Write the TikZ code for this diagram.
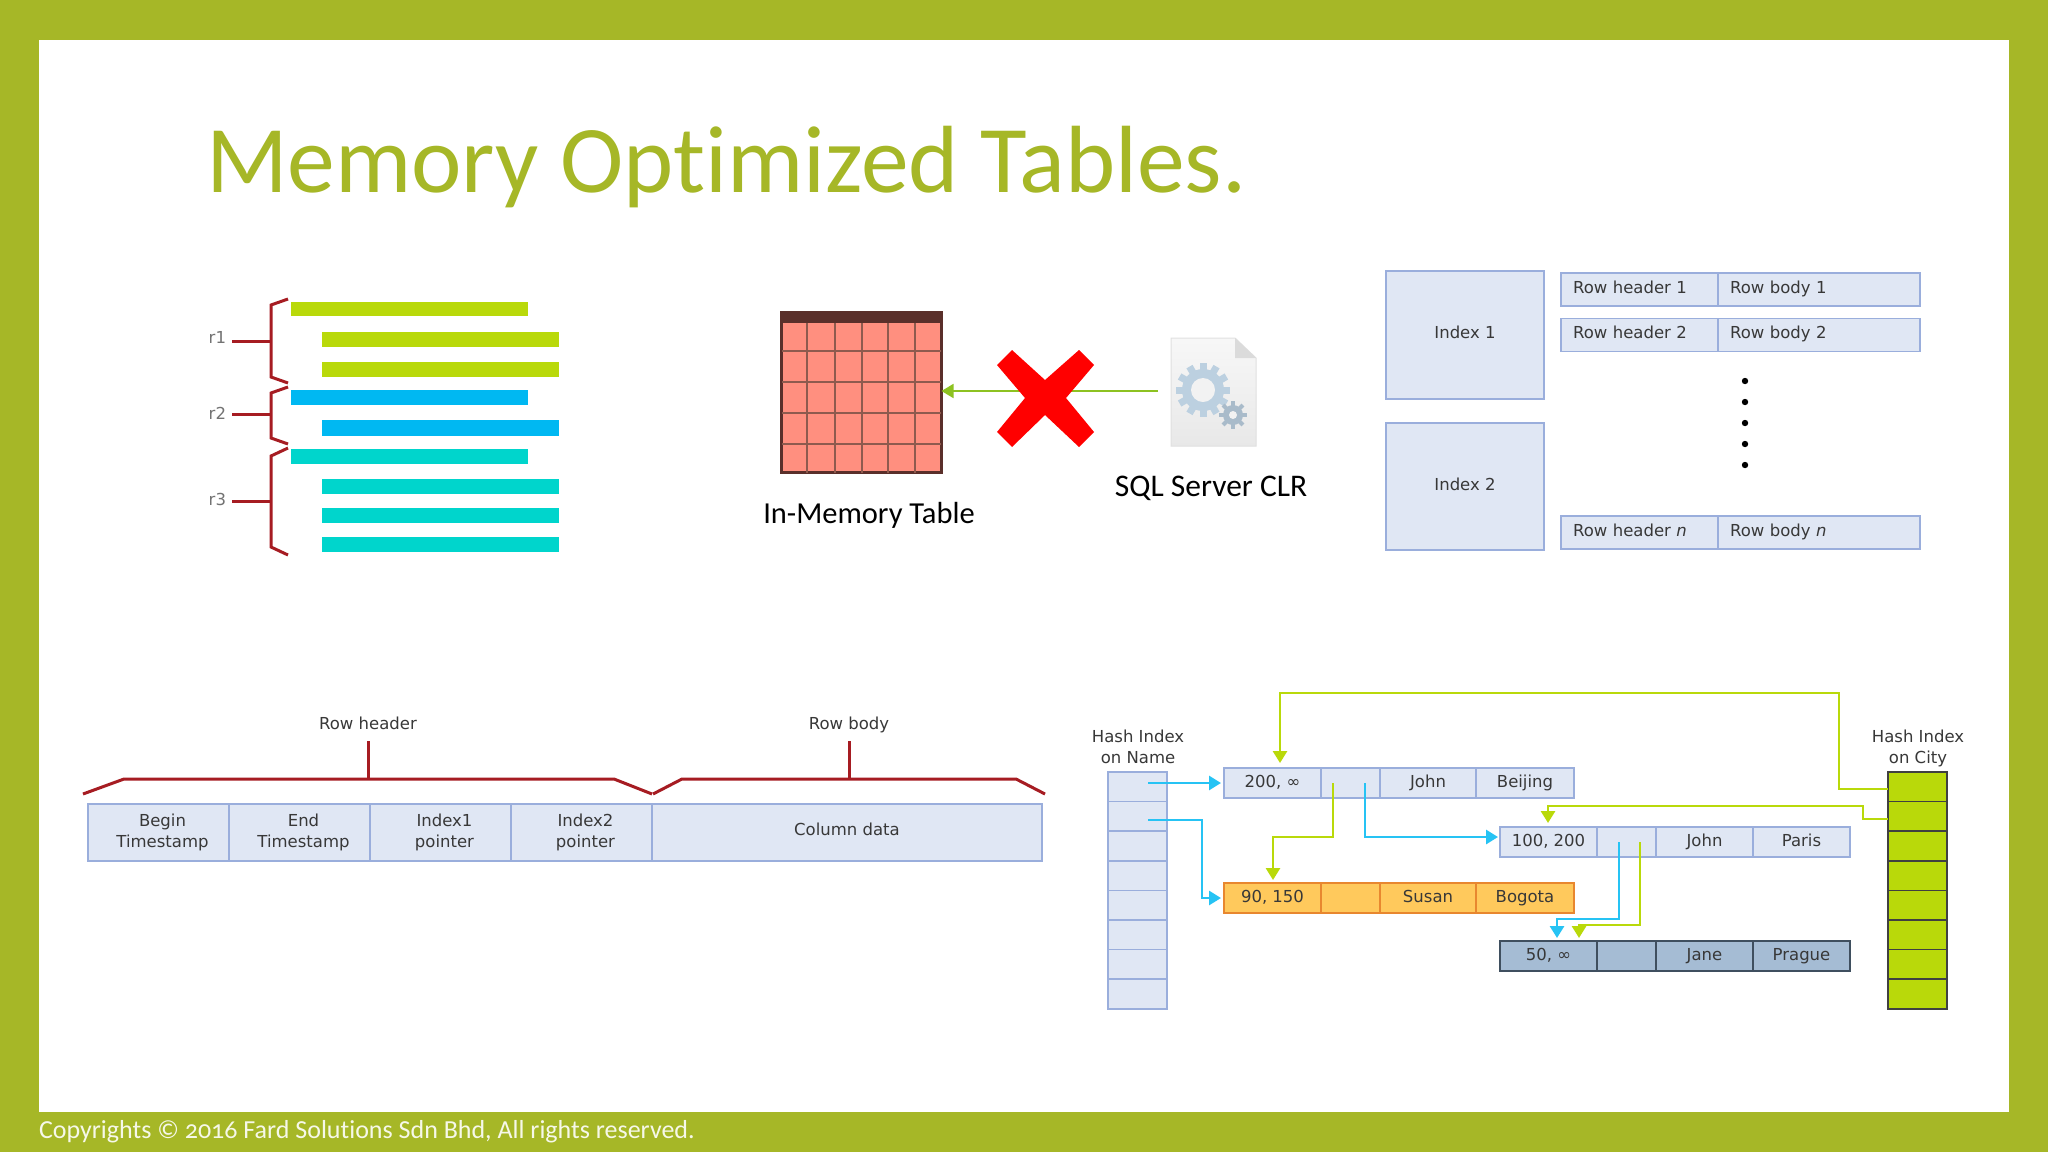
\documentclass[tikz,border=0pt]{standalone}
\usepackage{fontspec}
\newfontfamily\verdfont{DejaVu Sans}
\newfontfamily\corbfont[Numbers=OldStyle,Ligatures=NoCommon]{Carlito}
\usetikzlibrary{positioning,arrows.meta}
\definecolor{framegreen}{HTML}{A6B727}
\definecolor{limebar}{HTML}{B9D90A}
\definecolor{bluebar}{HTML}{00B8F2}
\definecolor{tealbar}{HTML}{00D5CC}
\definecolor{bracered}{HTML}{A61C22}
\definecolor{paleblue}{HTML}{E0E7F4}
\definecolor{edgeblue}{HTML}{9AAEDC}
\definecolor{gearblue}{HTML}{BCD0E0}
\definecolor{susanfill}{HTML}{FFC95C}
\definecolor{susanedge}{HTML}{E8872F}
\definecolor{janefill}{HTML}{A5BCD4}
\definecolor{janeedge}{HTML}{3F4F5F}
\definecolor{tablefill}{HTML}{FF8F7F}
\definecolor{tableedge}{HTML}{5A2F2A}
\definecolor{tablegrid}{HTML}{8E5A4E}

\begin{document}
\begin{tikzpicture}[
  x=1pt,y=-1pt,
  >={Triangle[length=12pt,width=14pt]},
  every node/.style={font=\verdfont\fontsize{16.5}{21}\selectfont,text=black!78,inner sep=0pt,outer sep=0pt},
  brace/.style={draw=bracered,line width=3pt},
  basecell/.style={draw=edgeblue,fill=paleblue,line width=1.6pt,align=center},
  cell/.style={basecell,minimum height=30pt,text height=12pt,text depth=3pt},
  namecell/.style={basecell,minimum width=59pt,minimum height=29.6pt},
  citycell/.style={namecell,draw=black!75,fill=limebar},
  suscell/.style={cell,draw=susanedge,fill=susanfill},
  janecell/.style={cell,draw=janeedge,fill=janefill},
  headcell/.style={cell,minimum width=157pt,minimum height=33pt,text width=133pt,align=left,text depth=5pt},
  bodycell/.style={cell,minimum width=202pt,minimum height=33pt,text width=178pt,align=left,text depth=5pt},
  fieldcell/.style={basecell,minimum width=141pt,minimum height=57pt},
  fieldtext/.style={align=center,xshift=4pt},
  indexbox/.style={basecell,minimum width=158pt,minimum height=128pt,text height=12pt,text depth=5pt},
  limeline/.style={draw=limebar,line width=2.8pt},
  blueline/.style={draw=bluebar!85!white,line width=2.8pt}
]
  \useasboundingbox (0,0) rectangle (2048,1152);
  \fill[framegreen] (0,0) rectangle (2048,1152);
  \fill[white] (39,40) rectangle (2009,1112);
  \node[font=\corbfont\fontsize{95.5}{96}\selectfont,text=framegreen,anchor=base west] (title) at (206,192) {Memory Optimized Tables.};
  \node[font=\corbfont\fontsize{26}{26}\selectfont,text=white!90!framegreen,anchor=base west] (footer) at (39,1138) {Copyrights © 2016 Fard Solutions Sdn Bhd, All rights reserved.};

  \fill[limebar] (291,302) rectangle (528,316);
  \fill[limebar] (322,332) rectangle (559,347);
  \fill[limebar] (322,362) rectangle (559,377);
  \fill[bluebar] (291,390) rectangle (528,405);
  \fill[bluebar] (322,420) rectangle (559,436);
  \fill[tealbar] (291,449) rectangle (528,464);
  \fill[tealbar] (322,479) rectangle (559,494);
  \fill[tealbar] (322,508) rectangle (559,523);
  \fill[tealbar] (322,537) rectangle (559,552);
  \draw[brace] (288,299) -- (271,305) -- (271,377) -- (288,383);
  \draw[brace] (288,387) -- (271,393) -- (271,438) -- (288,444);
  \draw[brace] (288,448) -- (271,456) -- (271,547) -- (288,555);
  \coordinate (braceone) at (271,341);
  \coordinate (bracetwo) at (271,414);
  \coordinate (bracethree) at (271,501);
  \node[text=black!55,anchor=east] (rone) at (226,337) {r1};
  \node[text=black!55,anchor=east] (rtwo) at (226,413) {r2};
  \node[text=black!55,anchor=east] (rthree) at (226,499) {r3};
  \draw[brace] (braceone) -- ([xshift=6pt]rone.east |- braceone);
  \draw[brace] (bracetwo) -- ([xshift=6pt]rtwo.east |- bracetwo);
  \draw[brace] (bracethree) -- ([xshift=6pt]rthree.east |- bracethree);

  \node[draw=tableedge,fill=tablefill,line width=3.5pt,minimum width=160pt,minimum height=160pt] (memtable) at (861.5,392.5) {};
  \fill[tableedge] (780,311) rectangle (943,323);
  \foreach \gridx in {807,835,862,888,915}
    \draw[tablegrid,line width=1.8pt] (\gridx,323) -- (\gridx,473);
  \foreach \gridy in {351,382,413,444}
    \draw[tablegrid,line width=1.8pt] (782,\gridy) -- (941,\gridy);
  \node[font=\corbfont\fontsize{30.5}{31}\selectfont,text=black,anchor=base] (memlabel) at (869,523) {In-Memory Table};

  \path[draw=black!12,line width=1pt,top color=black!3,bottom color=black!9] (1171,338) -- (1235,338) -- (1256,358) -- (1256,446) -- (1171,446) -- cycle;
  \fill[black!14] (1235,338) -- (1235,358) -- (1256,358) -- cycle;
  \begin{scope}[shift={(1203,390)}]
    \foreach \tooth in {0,30,...,330}
      \draw[gearblue,line width=7pt] (\tooth:18) -- (\tooth:27);
    \fill[gearblue] (0,0) circle (21);
    \fill[black!5] (0,0) circle (12);
  \end{scope}
  \begin{scope}[shift={(1233,415)}]
    \foreach \tooth in {0,45,...,315}
      \draw[gearblue!90!black,line width=4pt] (\tooth:8) -- (\tooth:14);
    \fill[gearblue!90!black] (0,0) circle (10);
    \fill[black!5] (0,0) circle (4);
  \end{scope}
  \node[font=\corbfont\fontsize{31.5}{31}\selectfont,text=black,anchor=base] (clrlabel) at (1211,496) {SQL Server CLR};
  \coordinate (clrend) at (1158,391);
  \draw[->,draw=framegreen!85!green,line width=1.8pt] (clrend) -- (memtable.east |- clrend);
  \fill[red] (1012,350) -- (1045,380) -- (1079,350) -- (1094,365) -- (1066,398) -- (1094,432) -- (1079,447) -- (1045,415) -- (1012,447) -- (997,432) -- (1025,398) -- (997,365) -- cycle;

  \node[indexbox] (indexa) at (1465,335) {Index 1};
  \node[indexbox,minimum height=127pt] (indexb) at (1465,486.5) {Index 2};
  \node[headcell,anchor=north west] (heada) at (1561,273) {Row header 1};
  \node[bodycell,right=0pt of heada] (bodya) {Row body 1};
  \node[headcell,anchor=north west] (headb) at (1561,318.5) {Row header 2};
  \node[bodycell,right=0pt of headb] (bodyb) {Row body 2};
  \node[headcell,anchor=north west] (headn) at (1561,516) {Row header \textit{n}};
  \node[bodycell,right=0pt of headn] (bodyn) {Row body \textit{n}};
  \foreach \doty in {381,402,423,444,465}
    \fill[black] (1745,\doty) circle (3.2);

  \node[fieldcell,anchor=north west,label={[fieldtext]center:Begin\\Timestamp}] (begints) at (88,804) {};
  \node[fieldcell,right=0pt of begints,label={[fieldtext]center:End\\Timestamp}] (endts) {};
  \node[fieldcell,right=0pt of endts,label={[fieldtext]center:Index1\\pointer}] (ptra) {};
  \node[fieldcell,right=0pt of ptra,label={[fieldtext]center:Index2\\pointer}] (ptrb) {};
  \node[fieldcell,minimum width=390pt,right=0pt of ptrb,text height=12pt,text depth=6pt] (coldata) {Column data};
  \node[anchor=base] (rowhead) at (368,729) {Row header};
  \node[anchor=base] (rowbody) at (849,729) {Row body};
  \draw[brace] (83,794) -- (124,779) -- (614,779) -- (652,794);
  \draw[brace] (653,794) -- (682,779) -- (1016,779) -- (1045,794);
  \coordinate (headfoot) at (368,779);
  \coordinate (bodyfoot) at (849,779);
  \draw[brace] (headfoot) -- (368,741);
  \draw[brace] (bodyfoot) -- (849,741);

  \node[align=center,anchor=north] (hashname) at (1138,729.5) {Hash Index\\on Name};
  \node[align=center,anchor=north] (hashcity) at (1918,729.5) {Hash Index\\on City};
  \foreach \i in {1,...,8} {
    \node[namecell] (name\i) at (1137.5,{757.2+29.6*\i}) {};
    \node[citycell] (city\i) at (1917.5,{757.2+29.6*\i}) {};
  }
  \node[cell,minimum width=97pt,anchor=north west] (rowa) at (1224,768) {200, ∞};
  \node[cell,minimum width=59pt,right=0pt of rowa] (ptrrowa) {};
  \node[cell,minimum width=96pt,right=0pt of ptrrowa] (namea) {John};
  \node[cell,minimum width=98pt,right=0pt of namea] (citya) {Beijing};
  \node[cell,minimum width=97pt,anchor=north west] (rowb) at (1500,827) {100, 200};
  \node[cell,minimum width=59pt,right=0pt of rowb] (ptrrowb) {};
  \node[cell,minimum width=97pt,right=0pt of ptrrowb] (nameb) {John};
  \node[cell,minimum width=97pt,right=0pt of nameb] (cityb) {Paris};
  \node[suscell,minimum width=97pt,anchor=north west] (rowc) at (1224,883) {90, 150};
  \node[suscell,minimum width=59pt,right=0pt of rowc] (ptrrowc) {};
  \node[suscell,minimum width=96pt,right=0pt of ptrrowc] (namec) {Susan};
  \node[suscell,minimum width=98pt,right=0pt of namec] (cityc) {Bogota};
  \node[janecell,minimum width=97pt,anchor=north west] (rowd) at (1500,941) {50, ∞};
  \node[janecell,minimum width=59pt,right=0pt of rowd] (ptrrowd) {};
  \node[janecell,minimum width=97pt,right=0pt of ptrrowd] (named) {Jane};
  \node[janecell,minimum width=97pt,right=0pt of named] (cityd) {Prague};

  \coordinate (namestarta) at (1148,783);
  \coordinate (namestartb) at (1148,820);
  \coordinate (ptralime) at (1333,783);
  \coordinate (ptrablue) at (1365,783);
  \coordinate (ptrbblue) at (1619,842);
  \coordinate (ptrblime) at (1640,842);
  \coordinate (citystarta) at (1888,789);
  \coordinate (citystartb) at (1888,819);
  \draw[->,blueline] (namestarta) -- ([xshift=-3pt]rowa.west);
  \draw[->,blueline] (namestartb) -- (1202,820) -- (1202,898) -- ([xshift=-3pt]rowc.west);
  \draw[->,blueline] (ptrablue) -- (1365,837) -- (1498,837);
  \draw[->,blueline] (ptrbblue) -- (1619,919) -- (1557,919) -- (1557,938);
  \draw[->,limeline] (ptralime) -- (1333,837) -- (1273,837) -- (1273,880);
  \draw[->,limeline] (ptrblime) -- (1640,925) -- (1579,925) -- (1579,938);
  \draw[->,limeline] (citystarta) -- (1839,789) -- (1839,693) -- (1280,693) -- (1280,763);
  \draw[->,limeline] (citystartb) -- (1863,819) -- (1863,806) -- (1548,806) -- (1548,823);
\end{tikzpicture}
\end{document}
